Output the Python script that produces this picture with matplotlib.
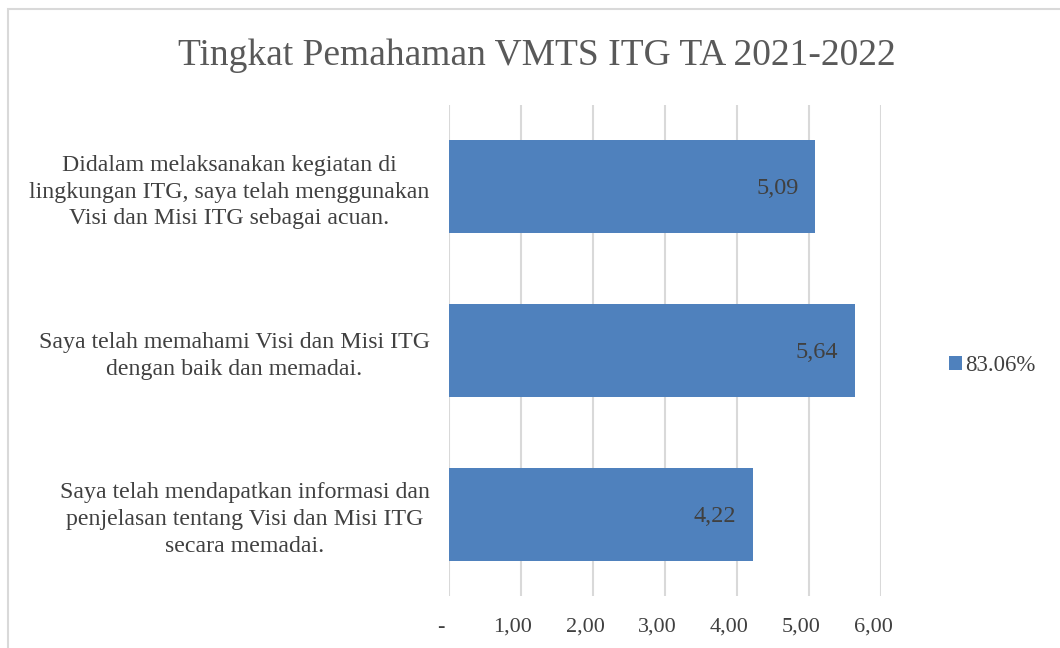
import matplotlib.pyplot as plt
from matplotlib.patches import Rectangle
from matplotlib.transforms import ScaledTranslation

# data (top to bottom)
categories = [
    "Didalam melaksanakan kegiatan di\nlingkungan ITG, saya telah menggunakan\nVisi dan Misi ITG sebagai acuan.",
    "Saya telah memahami Visi dan Misi ITG\ndengan baik dan memadai.",
    "Saya telah mendapatkan informasi dan\npenjelasan tentang Visi dan Misi ITG\nsecara memadai.",
]
values = [5.09, 5.64, 4.22]
value_labels = ["5,09", "5,64", "4,22"]
x_ticks = [0, 1, 2, 3, 4, 5, 6]
x_tick_labels = ["-", "1,00", "2,00", "3,00", "4,00", "5,00", "6,00"]
series_name = "83.06%"

BAR_COLOR = "#4f81bd"
GRID_COLOR = "#d9d9d9"
TEXT_COLOR = "#404040"
TITLE_COLOR = "#595959"

plt.rcParams["font.family"] = ["Liberation Serif", "DejaVu Serif"]

W, H = 1060, 648
fig = plt.figure(figsize=(W / 100, H / 100), dpi=100)
fig.patch.set_facecolor("white")

# chart border (runs off the right and bottom of the screenshot)
fig.patches.append(Rectangle((8 / W, -0.1), 1.2, 1 - 9 / H + 0.1, transform=fig.transFigure,
                             fill=False, edgecolor=GRID_COLOR, linewidth=1.5))

ax = fig.add_axes([449 / W, 1 - 596 / H, (881 - 449) / W, (596 - 105) / H])

pos = list(range(len(categories)))[::-1]
bars = ax.barh(pos, values, height=0.57, color=BAR_COLOR, label=series_name, zorder=3)

ax.set_xlim(0, 6)
ax.set_ylim(-0.5, len(categories) - 0.5)
ax.set_xticks(x_ticks)
ax.set_xticklabels([])
# Excel accounting format pads labels on the right, so they sit a bit left of the gridline
shift = ScaledTranslation(-8 / 100, -31 / 100, fig.dpi_scale_trans)
for xv, txt in zip(x_ticks, x_tick_labels):
    ax.text(xv, 0, txt, transform=ax.get_xaxis_transform() + shift,
            ha="center", va="center", fontsize=16, color=TEXT_COLOR)

ax.set_yticks(pos)
ax.set_yticklabels(categories, fontsize=17.2, color=TEXT_COLOR, multialignment="center",
                   linespacing=1.35)
ax.tick_params(axis="both", length=0)
ax.tick_params(axis="y", pad=14)

ax.grid(axis="x", color=GRID_COLOR, linewidth=1.5, zorder=0)
for s in ax.spines.values():
    s.set_visible(False)

for b, txt in zip(bars, value_labels):
    ax.annotate(txt, (b.get_width(), b.get_y() + b.get_height() / 2),
                xytext=(-12, -1.5), textcoords="offset points", ha="right", va="center",
                fontsize=17.5, color=TEXT_COLOR, zorder=4)

fig.text(537 / W, 1 - 56 / H, "Tingkat Pemahaman VMTS ITG TA 2021-2022",
         ha="center", va="center", fontsize=27, color=TITLE_COLOR)

fig.legend(handles=[bars], labels=[series_name], loc="center left",
           bbox_to_anchor=(949 / W, 1 - 366 / H), frameon=False, fontsize=16.5,
           handlelength=0.55, handleheight=0.55, handletextpad=0.15,
           labelcolor=TEXT_COLOR, borderaxespad=0, borderpad=0)

fig.savefig("out.png", dpi=100, facecolor="white")
